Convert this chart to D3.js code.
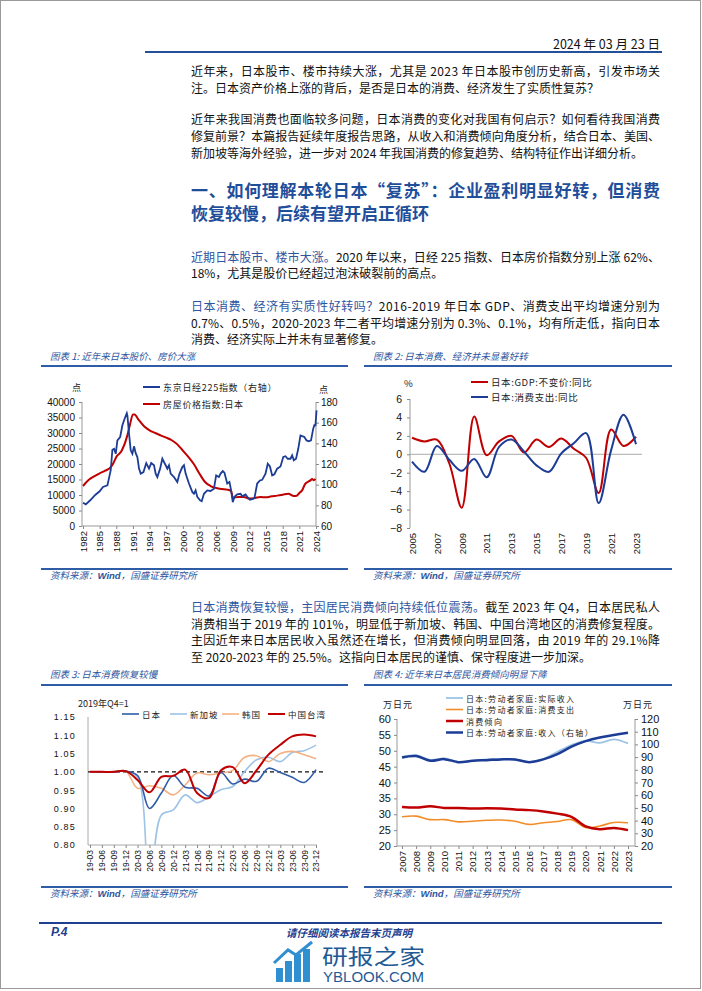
<!DOCTYPE html>
<html><head><meta charset="utf-8">
<script src="https://cdn.jsdelivr.net/npm/d3@7"></script>
<style>
body{margin:0;background:#fff;}
svg{display:block;}
text{font-family:"Noto Sans CJK SC","Noto Sans",sans-serif;}
.num{font-family:"Liberation Sans",Arial,sans-serif;}
</style></head><body>
<svg id="page" width="702" height="991"></svg>
<script>
// ---------- Chart 1 data ----------
const nikkeiT = [1982.0,1982.5,1983.3,1984.2,1985.0,1985.6,1986.4,1987.0,1987.3,1987.6,1987.9,1988.2,1988.7,1989.1,1989.5,1989.9,1990.0,1990.3,1990.6,1990.9,1991.2,1991.5,1991.8,1992.1,1992.4,1992.9,1993.4,1993.9,1994.3,1994.8,1995.1,1995.4,1995.9,1996.3,1996.9,1997.2,1997.5,1997.8,1998.4,1999.0,1999.4,1999.9,2000.2,2000.5,2001.1,2001.7,2002.0,2002.3,2002.6,2003.1,2003.4,2003.8,2004.4,2005.0,2005.6,2006.0,2006.5,2006.8,2007.2,2007.5,2008.0,2008.4,2008.7,2009.0,2009.3,2009.8,2010.4,2010.7,2011.3,2011.6,2012.1,2012.5,2012.9,2013.4,2013.9,2014.3,2014.9,2015.3,2015.7,2016.1,2016.5,2017.0,2017.6,2018.1,2018.5,2018.9,2019.4,2019.7,2020.0,2020.4,2020.8,2021.2,2021.5,2021.9,2022.3,2022.7,2023.1,2023.5,2023.7,2023.9,2024.1];
const nikkeiV = [7500,7000,8300,10000,11200,12600,13100,18000,24600,24900,23300,27600,28700,32500,34600,36400,35700,29800,24400,23300,25700,23500,22250,18500,16900,17400,20300,18500,20300,19600,16900,15800,18500,21700,19600,18500,19600,16900,15800,14200,16900,19000,19600,16900,13700,11000,10400,11500,9400,8300,8000,10400,11500,11300,12000,16300,15800,16900,17700,17200,13700,14200,11500,7700,9400,10200,10400,9600,10200,9400,8500,8700,9000,13700,14700,14900,16900,20100,19200,16300,16700,18500,19200,22250,22500,21700,21700,22800,21200,21700,24900,29200,29000,28700,27600,27300,27600,31400,32500,32500,37300];
const houseT = [1982,1983,1984,1985,1986,1987,1987.5,1988,1989,1990,1990.5,1991,1991.3,1992,1993,1994,1995,1996,1997,1998,1999,2000,2001,2002,2003,2004,2005,2006,2007,2008,2008.7,2009,2010,2011,2012,2013,2014,2015,2016,2017,2018,2019,2020,2020.5,2021,2021.5,2022,2022.5,2023,2023.3,2023.6,2023.9];
const houseV = [98.7,104.5,108,111,113.5,117,121,126.8,133,147.7,159,168,168,163,156.5,152.6,150,147.7,145.5,143,139,133,126.8,119.7,110.6,102.6,98.7,96.8,95.8,95.2,93.9,87.4,88,88,86.5,87.1,88,87.8,88.7,89.4,90.3,91.3,89,89.3,92,94.5,100.3,102.6,104.2,105.5,104.2,105.5];
const c1Years = [1982,1985,1988,1991,1994,1997,2000,2003,2006,2009,2012,2015,2018,2021,2024];
const c1LeftTicks = [0,5000,10000,15000,20000,25000,30000,35000,40000];
const c1RightTicks = [60,80,100,120,140,160,180];

// ---------- Chart 2 data ----------
const c2Years = [2005,2006,2007,2008,2009,2010,2011,2012,2013,2014,2015,2016,2017,2018,2019,2020,2021,2022,2023];
const gdpYoY = [1.8,1.4,1.6,-1.0,-5.8,4.1,-0.1,1.4,2.0,0.2,1.6,0.8,1.7,0.6,-0.4,-4.2,2.7,0.9,1.9];
const consYoY = [-0.8,-1.9,0.9,-0.6,-1.8,-0.5,-2.5,0.8,1.6,0.3,-1.2,-1.9,0.1,1.2,2.3,-5.3,0.45,4.3,1.1];
const c2YTicks = [-8,-6,-4,-2,0,2,4,6];
const c2XLabels = [2005,2007,2009,2011,2013,2015,2017,2019,2021,2023];

// ---------- Chart 3 data ----------
const quarters = ["19-03","19-06","19-09","19-12","20-03","20-06","20-09","20-12","21-03","21-06","21-09","21-12","22-03","22-06","22-09","22-12","23-03","23-06","23-09","23-12"];
const japanQ = [1.0,1.0,1.0,1.002,0.99,0.900,0.942,0.990,0.958,0.955,0.934,0.998,0.967,0.980,0.974,1.010,0.998,0.985,0.971,1.006];
const singaporeQ = [1.0,1.0,1.0,1.002,0.985,0.68,0.882,0.896,0.937,0.916,0.932,0.951,0.960,1.001,1.033,1.040,1.028,1.053,1.058,1.073];
const koreaQ = [1.0,1.0,1.0,1.002,0.955,0.962,0.955,0.937,0.964,0.997,0.992,0.997,1.004,1.040,1.044,1.028,1.050,1.056,1.047,1.036];
const taiwanQ = [1.0,1.0,1.0,1.002,0.978,0.944,0.986,0.989,1.006,0.942,0.928,1.004,1.013,0.969,1.004,1.047,1.074,1.097,1.102,1.097];
const c3YTicks = [0.80,0.85,0.90,0.95,1.00,1.05,1.10,1.15];

// ---------- Chart 4 data ----------
const c4Years = [2007,2008,2009,2010,2011,2012,2013,2014,2015,2016,2017,2018,2019,2020,2021,2022,2023];
const realIncome = [48.1,48.6,47.1,47.6,46.5,46.8,47.3,47.4,47.3,46.5,47.4,49.7,51.8,53.1,52.5,53.6,52.3];
const consExp = [29.2,29.4,28.3,28.3,27.6,27.8,28.1,28.2,27.8,26.8,27.3,27.7,28.3,25.8,26.3,27.4,27.3];
const propensity = [32.3,32.1,32.5,32.0,32.0,31.8,31.9,31.8,31.5,31.3,30.9,30.2,29.2,26.2,25.3,25.7,25.0];
const incomeR = [89.7,90.8,87.1,88.4,86.0,87.1,87.6,88.2,88.2,86.0,88.2,92.4,98.2,102.6,105.5,107.4,109.2];
const c4LeftTicks = [20,25,30,35,40,45,50,55,60];
const c4RightTicks = [20,30,40,50,60,70,80,90,100,110,120];

// ---------- colours ----------
const BLUE_T = "#2D55A0", DARK_BLUE = "#1C3C96", RED = "#C00000";
const svg = d3.select("#page");

// page border
svg.append("rect").attr("x",0.5).attr("y",0.5).attr("width",700).attr("height",988)
  .attr("fill","none").attr("stroke","#9a9a9a");

// header
svg.append("text").attr("x",660).attr("y",43).attr("text-anchor","end").attr("dominant-baseline","central")
  .attr("font-size",12.5).attr("fill","#111").text("2024 年 03 月 23 日");
svg.append("line").attr("x1",145).attr("x2",662).attr("y1",52).attr("y2",52).attr("stroke","#24509A").attr("stroke-width",2);

// ---------- body text ----------
const LEFT = 191, WIDTH = 469;
function textLine(y, parts, full, size, weight, color){
  const t = svg.append("text").attr("x",LEFT).attr("y",y).attr("dominant-baseline","central")
    .attr("font-size",size||12).attr("font-weight",weight||400).attr("fill",color||"#111");
  parts.forEach(p=>{
    const s = t.append("tspan").text(p[0]);
    if(p[1]) s.attr("fill",BLUE_T);
  });
  if(full) t.attr("textLength",WIDTH).attr("lengthAdjust","spacing");
}
textLine(70,[["近年来，日本股市、楼市持续大涨，尤其是 2023 年日本股市创历史新高，引发市场关"]],true);
textLine(87,[["注。日本资产价格上涨的背后，是否是日本的消费、经济发生了实质性复苏？"]],false);
textLine(118,[["近年来我国消费也面临较多问题，日本消费的变化对我国有何启示？如何看待我国消费"]],true);
textLine(135,[["修复前景？本篇报告延续年度报告思路，从收入和消费倾向角度分析，结合日本、美国、"]],true);
textLine(152,[["新加坡等海外经验，进一步对 2024 年我国消费的修复趋势、结构特征作出详细分析。"]],false);
textLine(189,[["一、如何理解本轮日本“复苏”：企业盈利明显好转，但消费"]],true,17,700,"#1F4E9A");
textLine(212,[["恢复较慢，后续有望开启正循环"]],false,17,700,"#1F4E9A");
textLine(256,[["近期日本股市、楼市大涨。",true],["2020 年以来，日经 225 指数、日本房价指数分别上涨 62%、"]],true);
textLine(272,[["18%，尤其是股价已经超过泡沫破裂前的高点。"]],false);
textLine(305,[["日本消费、经济有实质性好转吗？",true],["2016-2019 年日本 GDP、消费支出平均增速分别为"]],true);
textLine(322,[["0.7%、0.5%，2020-2023 年二者平均增速分别为 0.3%、0.1%，均有所走低，指向日本"]],true);
textLine(338,[["消费、经济实际上并未有显著修复。"]],false);
textLine(606,[["日本消费恢复较慢，主因居民消费倾向持续低位震荡。",true],["截至 2023 年 Q4，日本居民私人"]],true);
textLine(623,[["消费相当于 2019 年的 101%，明显低于新加坡、韩国、中国台湾地区的消费修复程度。"]],true);
textLine(639,[["主因近年来日本居民收入虽然还在增长，但消费倾向明显回落，由 2019 年的 29.1%降"]],true);
textLine(656,[["至 2020-2023 年的 25.5%。这指向日本居民的谨慎、保守程度进一步加深。"]],false);

// ---------- chart frames ----------
function frame(x1, x2, titleY, lineY, srcLineY, title){
  svg.append("text").attr("x",x1+9).attr("y",titleY).attr("dominant-baseline","central")
    .attr("font-size",9.5).attr("font-style","italic").attr("fill",BLUE_T).text(title);
  svg.append("line").attr("x1",x1).attr("x2",x2).attr("y1",lineY).attr("y2",lineY).attr("stroke","#2E5CA6").attr("stroke-width",2);
  svg.append("line").attr("x1",x1).attr("x2",x2).attr("y1",srcLineY).attr("y2",srcLineY).attr("stroke","#2E5CA6").attr("stroke-width",2);
  const s = svg.append("text").attr("x",x1+9).attr("y",srcLineY+6).attr("dominant-baseline","central")
    .attr("font-size",9.5).attr("font-style","italic").attr("fill",BLUE_T);
  s.append("tspan").text("资料来源：");
  s.append("tspan").attr("font-family","Liberation Sans, Arial").attr("font-weight",700).text("Wind");
  s.append("tspan").text("，国盛证券研究所");
}
frame(41,348,356,366,569,"图表 1:  近年来日本股价、房价大涨");
frame(364,672,356,366,569,"图表 2:  日本消费、经济并未显著好转");
frame(41,348,674,685,887,"图表 3:  日本消费恢复较慢");
frame(364,672,674,685,887,"图表 4:  近年来日本居民消费倾向明显下降");

function styleAxis(g, size){
  g.select(".domain").remove();
  g.selectAll(".tick line").attr("stroke","#888");
  g.selectAll(".tick text").attr("class","num").attr("font-size",size).attr("fill","#111")
    .style("font-family","Liberation Sans, Arial, sans-serif");
}
function rotateX(g){
  g.selectAll(".tick text").attr("transform","rotate(-90)").attr("x",-5).attr("y",0)
    .attr("dy","0.35em").attr("text-anchor","end");
}
function legendItem(x, y, color, w, label, size, ls){
  svg.append("line").attr("x1",x).attr("x2",x+17).attr("y1",y).attr("y2",y).attr("stroke",color).attr("stroke-width",w);
  svg.append("text").attr("x",x+20).attr("y",y).attr("dominant-baseline","central").attr("font-size",size||9)
    .attr("letter-spacing",ls||0).attr("fill","#222").text(label);
}

// ---------- Chart 1 ----------
{
  const x = d3.scaleLinear().domain([1982,2024]).range([83,316]);
  const yL = d3.scaleLinear().domain([0,40000]).range([526,402]);
  const yR = d3.scaleLinear().domain([60,180]).range([526,402]);
  svg.append("line").attr("x1",82).attr("x2",82).attr("y1",402).attr("y2",526).attr("stroke","#999");
  svg.append("line").attr("x1",316).attr("x2",316).attr("y1",402).attr("y2",526).attr("stroke","#999");
  svg.append("line").attr("x1",82).attr("x2",316).attr("y1",526).attr("y2",526).attr("stroke","#999");
  const gl = svg.append("g").attr("transform","translate(82,0)").call(d3.axisLeft(yL).tickValues(c1LeftTicks).tickSize(3).tickPadding(4).tickFormat(d3.format("d")));
  styleAxis(gl,10);
  const gr = svg.append("g").attr("transform","translate(316,0)").call(d3.axisRight(yR).tickValues(c1RightTicks).tickSize(3).tickPadding(2).tickFormat(d3.format("d")));
  styleAxis(gr,10);
  const gb = svg.append("g").attr("transform","translate(0,526)").call(d3.axisBottom(x).tickValues(c1Years).tickSize(3).tickFormat(d3.format("d")));
  styleAxis(gb,9.5); rotateX(gb);
  svg.append("text").attr("x",72).attr("y",387).attr("dominant-baseline","central").attr("font-size",9).attr("fill","#222").text("点");
  svg.append("text").attr("x",319).attr("y",389).attr("dominant-baseline","central").attr("font-size",9).attr("fill","#222").text("点");
  const hp = houseT.map((t,i)=>[t,houseV[i]]);
  svg.append("path").datum(hp).attr("fill","none").attr("stroke",RED).attr("stroke-width",2)
    .attr("d",d3.line().x(d=>x(d[0])).y(d=>yR(d[1])).curve(d3.curveMonotoneX));
  const nk = nikkeiT.map((t,i)=>[t,nikkeiV[i]]);
  svg.append("path").datum(nk).attr("fill","none").attr("stroke",DARK_BLUE).attr("stroke-width",1.8)
    .attr("d",d3.line().x(d=>x(d[0])).y(d=>yL(d[1])));
  legendItem(143,387,DARK_BLUE,2,"东京日经225指数（右轴）",9,0.7);
  legendItem(143,404,RED,2,"房屋价格指数:日本",9,0.7);
}

// ---------- Chart 2 ----------
{
  const x = d3.scaleLinear().domain([2005,2023]).range([412,636]);
  const y = d3.scaleLinear().domain([-8,6]).range([528,399]);
  svg.append("line").attr("x1",410).attr("x2",410).attr("y1",399).attr("y2",528).attr("stroke","#999");
  svg.append("line").attr("x1",410).attr("x2",642).attr("y1",y(0)).attr("y2",y(0)).attr("stroke","#aaa");
  const gl = svg.append("g").attr("transform","translate(410,0)").call(d3.axisLeft(y).tickValues(c2YTicks).tickSize(3).tickPadding(5));
  styleAxis(gl,10.5);
  const gb = svg.append("g").attr("transform","translate(0,528)").call(d3.axisBottom(x).tickValues(c2XLabels).tickSize(0).tickFormat(d3.format("d")));
  styleAxis(gb,9.5); rotateX(gb);
  svg.append("text").attr("x",404).attr("y",383).attr("dominant-baseline","central").attr("font-size",9.5).attr("fill","#222").text("%");
  const line = d3.line().x((d,i)=>x(c2Years[i])).y(d=>y(d)).curve(d3.curveCatmullRom.alpha(0.5));
  svg.append("path").datum(gdpYoY).attr("fill","none").attr("stroke",RED).attr("stroke-width",2).attr("d",line);
  svg.append("path").datum(consYoY).attr("fill","none").attr("stroke",DARK_BLUE).attr("stroke-width",2).attr("d",line);
  legendItem(471,382,RED,2,"日本:GDP:不变价:同比",9.5,0.6);
  legendItem(471,397,DARK_BLUE,2,"日本:消费支出:同比",9.5,0.6);
}

// ---------- Chart 3 ----------
{
  const x = d3.scalePoint().domain(quarters).range([90,316]);
  const y = d3.scaleLinear().domain([0.8,1.15]).range([845,717]);
  svg.append("defs").append("clipPath").attr("id","clip3").append("rect").attr("x",88).attr("y",700).attr("width",240).attr("height",145);
  svg.append("line").attr("x1",88).attr("x2",88).attr("y1",717).attr("y2",845).attr("stroke","#aaa");
  svg.append("line").attr("x1",88).attr("x2",317).attr("y1",845).attr("y2",845).attr("stroke","#aaa");
  const gl = svg.append("g").attr("transform","translate(88,0)").call(d3.axisLeft(y).tickValues(c3YTicks).tickSize(0).tickPadding(12).tickFormat(d3.format(".2f")));
  styleAxis(gl,9); gl.selectAll(".tick text").attr("letter-spacing",1.2);
  const gb = svg.append("g").attr("transform","translate(0,845)").call(d3.axisBottom(x).tickSize(3));
  styleAxis(gb,8.5); rotateX(gb);
  svg.append("text").attr("x",78).attr("y",703).attr("dominant-baseline","central").attr("font-size",9).attr("fill","#222").text("2019年Q4=1");
  svg.append("line").attr("x1",88).attr("x2",326).attr("y1",y(1)).attr("y2",y(1)).attr("stroke","#111").attr("stroke-width",1.2).attr("stroke-dasharray","4,3");
  const line = d3.line().x((d,i)=>x(quarters[i])).y(d=>y(d)).curve(d3.curveCatmullRom.alpha(0.5));
  const g = svg.append("g").attr("clip-path","url(#clip3)");
  g.append("path").datum(singaporeQ).attr("fill","none").attr("stroke","#9DC3E6").attr("stroke-width",1.6).attr("d",line);
  g.append("path").datum(koreaQ).attr("fill","none").attr("stroke","#F4B183").attr("stroke-width",1.6).attr("d",line);
  g.append("path").datum(japanQ).attr("fill","none").attr("stroke","#2F5CA8").attr("stroke-width",1.6).attr("d",line);
  g.append("path").datum(taiwanQ).attr("fill","none").attr("stroke",RED).attr("stroke-width",2).attr("d",line);
  legendItem(122,714,"#2F5CA8",1.6,"日本",8.5,1);
  legendItem(170,714,"#9DC3E6",1.6,"新加坡",8.5,1);
  legendItem(222,714,"#F4B183",1.6,"韩国",8.5,1);
  legendItem(268,714,RED,2,"中国台湾",8.5,1);
}

// ---------- Chart 4 ----------
{
  const x = d3.scaleLinear().domain([2007,2023]).range([402,628]);
  const yL = d3.scaleLinear().domain([20,60]).range([846,719]);
  const yR = d3.scaleLinear().domain([20,120]).range([846,719]);
  svg.append("line").attr("x1",397).attr("x2",397).attr("y1",719).attr("y2",846).attr("stroke","#999");
  svg.append("line").attr("x1",635).attr("x2",635).attr("y1",719).attr("y2",846).attr("stroke","#999");
  svg.append("line").attr("x1",397).attr("x2",635).attr("y1",846).attr("y2",846).attr("stroke","#999");
  const gl = svg.append("g").attr("transform","translate(397,0)").call(d3.axisLeft(yL).tickValues(c4LeftTicks).tickSize(3).tickPadding(3));
  styleAxis(gl,11);
  const gr = svg.append("g").attr("transform","translate(635,0)").call(d3.axisRight(yR).tickValues(c4RightTicks).tickSize(3).tickPadding(3));
  styleAxis(gr,11);
  const gb = svg.append("g").attr("transform","translate(0,846)").call(d3.axisBottom(x).tickValues(c4Years).tickSize(3).tickFormat(d3.format("d")));
  styleAxis(gb,9.5); rotateX(gb);
  svg.append("text").attr("x",383).attr("y",704).attr("dominant-baseline","central").attr("font-size",9).attr("letter-spacing",1).attr("fill","#222").text("万日元");
  svg.append("text").attr("x",623).attr("y",704).attr("dominant-baseline","central").attr("font-size",9).attr("letter-spacing",1).attr("fill","#222").text("万日元");
  const lineL = d3.line().x((d,i)=>x(c4Years[i])).y(d=>yL(d)).curve(d3.curveCatmullRom.alpha(0.5));
  const lineR = d3.line().x((d,i)=>x(c4Years[i])).y(d=>yR(d)).curve(d3.curveCatmullRom.alpha(0.5));
  svg.append("path").datum(realIncome).attr("fill","none").attr("stroke","#9DC3E6").attr("stroke-width",1.8).attr("d",lineL);
  svg.append("path").datum(consExp).attr("fill","none").attr("stroke","#F28C28").attr("stroke-width",1.6).attr("d",lineL);
  svg.append("path").datum(propensity).attr("fill","none").attr("stroke",RED).attr("stroke-width",2.5).attr("d",lineL);
  svg.append("path").datum(incomeR).attr("fill","none").attr("stroke",DARK_BLUE).attr("stroke-width",2.5).attr("d",lineR);
  legendItem(446,698,"#9DC3E6",1.8,"日本:劳动者家庭:实际收入",8,1.3);
  legendItem(446,709.5,"#F28C28",1.6,"日本:劳动者家庭:消费支出",8,1.3);
  legendItem(446,721,RED,2.5,"消费倾向",8,1.3);
  legendItem(446,732.5,DARK_BLUE,2.5,"日本:劳动者家庭:收入（右轴）",8,1.3);
}

// ---------- footer ----------
svg.append("line").attr("x1",39).attr("x2",662).attr("y1",923).attr("y2",923).attr("stroke","#1F3F8F").attr("stroke-width",2);
svg.append("text").attr("x",51).attr("y",932).attr("dominant-baseline","central").attr("font-size",12)
  .attr("font-weight",700).attr("font-style","italic").attr("fill","#1F3F8F").style("font-family","Liberation Sans, Arial").text("P.4");
svg.append("text").attr("x",349).attr("y",932).attr("text-anchor","middle").attr("dominant-baseline","central").attr("font-size",10.5)
  .attr("font-weight",700).attr("font-style","italic").attr("fill","#1F3F8F").text("请仔细阅读本报告末页声明");
// watermark logo
{
  const lg = svg.append("g");
  [[276,968,7,14],[285,961,7,21],[294,954,7,28],[303,949,7,33]].forEach(b=>
    lg.append("rect").attr("x",b[0]).attr("y",b[1]).attr("width",b[2]).attr("height",b[3]).attr("fill","#2F8FD0"));
  lg.append("path").attr("d","M274,963 L288,950 L296,955 L312,942").attr("fill","none").attr("stroke","#2F8FD0").attr("stroke-width",3);
  lg.append("text").attr("x",322).attr("y",955).attr("dominant-baseline","central").attr("font-size",21).attr("fill","#1E5A96")
    .attr("textLength",103).attr("lengthAdjust","spacingAndGlyphs").text("研报之家");
  lg.append("text").attr("x",323).attr("y",977).attr("dominant-baseline","central").attr("font-size",14).attr("fill","#1E5A96")
    .style("font-family","Liberation Sans, Arial").attr("textLength",101).attr("lengthAdjust","spacingAndGlyphs").text("YBLOOK.COM");
}
</script>
</body></html>
